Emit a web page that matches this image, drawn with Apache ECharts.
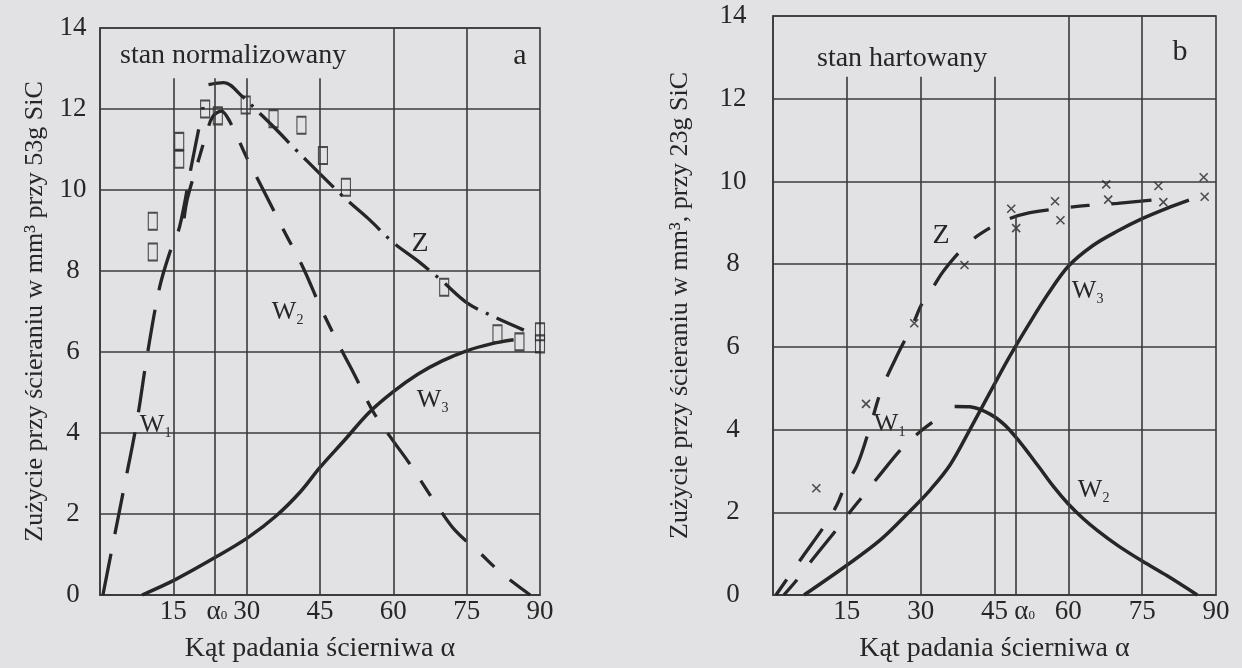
<!DOCTYPE html>
<html>
<head>
<meta charset="utf-8">
<script src="https://cdn.jsdelivr.net/npm/echarts@6/dist/echarts.min.js"></script>
<style>
  html, body { margin: 0; padding: 0; background: #e2e2e4; }
  #chart { width: 1242px; height: 668px; }
</style>
</head>
<body>
<div id="chart"></div>
<script>
// ---- axes ----
const angleMin = 0, angleMax = 90, angleStep = 15;
const wearMin = 0, wearMax = 14, wearStep = 2;

// ---- panel a: stan normalizowany (53 g SiC) ----
const aAlpha0 = 23.5;
const aShortGuides = [15, 30, 45];          // guide lines stopping below the caption
const aFullGuides = [60, 75];
const aGuideTop = 12.76;
const aW1 = [[0.6,0],[2.3,1.05],[5,2.7],[7.5,4.25],[9.6,5.88],[12.2,7.6],[14.4,8.5],[16.3,9.1],[18.7,10.6],[21.1,12.05]];
const aW2 = [[17.2,9.3],[17.9,9.8],[20.3,10.8],[21.8,11.4],[23,11.8],[24.8,11.95],[26.6,11.68],[30.1,10.78],[34,9.86],
             [37.6,9.0],[41.6,8.07],[45.2,7.08],[49.2,6.1],[52,5.45],[56,4.5],[60,3.8],[63,3.3],[66,2.75],[69,2.2],
             [72.6,1.6],[77.6,1.05],[82,0.55],[88,0]];
const aW3 = [[8.6,0],[15.4,0.38],[23.6,0.93],[30.4,1.43],[36,1.95],[41,2.55],[45,3.15],[50,3.82],[55,4.5],
             [60,5.02],[65,5.45],[70,5.78],[75,6.03],[80,6.2],[84.6,6.3]];
const aZ = [[22.2,12.6],[25.3,12.65],[29.2,12.3],[32.2,11.95],[36,11.5],[40,11.0],[45,10.4],[50,9.81],[55,9.28],
            [60,8.7],[65,8.25],[70,7.75],[75,7.22],[80,6.9],[86.7,6.54]];
const aPoints = [[10.8,9.23],[10.8,8.47],[16.2,11.2],[16.2,10.76],[21.5,12.0],[24.1,11.83],[29.8,12.1],[35.5,11.76],
                 [41.2,11.6],[45.6,10.85],[50.3,10.07],[70.4,7.6],[81.3,6.45],[85.8,6.25],[90,6.5],[90,6.2]];

// ---- panel b: stan hartowany (23 g SiC) ----
const bAlpha0 = 49.3;
const bShortGuides = [15, 30, 45];
const bFullGuides = [60, 75];
const bGuideTop = 12.53;
const bAlpha0Top = 9.17;
// Z (its lower branch runs together with W1)
const bZ = [[0.6,0],[5.8,0.89],[10.5,1.68],[13,2.18],[14.6,2.63],[17.1,3.14],[19.8,4.1],[21.9,4.92],[24.8,5.69],
            [28.5,6.57],[30.2,7.03],[32.3,7.4],[34.8,7.86],[39.9,8.53],[44.4,8.9],[48,9.1],[52,9.24],
            [58,9.34],[64,9.42],[70,9.47],[78.1,9.56]];
const bW2rise = [[2.2,0],[5.1,0.4],[7.7,0.81],[12.9,1.58],[15.6,2.0],[18.3,2.4],[21.2,2.83],[26.6,3.6],[30.1,3.97],[33,4.23]];
const bW2 = [[36.9,4.56],[40,4.55],[44,4.38],[47,4.12],[50,3.72],[54,3.1],[57,2.62],[60,2.2],[63,1.85],[66,1.55],
             [70,1.2],[75,0.82],[80,0.47],[86.2,0]];
const bW3 = [[6.3,0],[15,0.72],[22,1.35],[28,2.05],[32,2.55],[36,3.15],[40,4.0],[44,4.88],[48,5.75],[52,6.55],
             [56,7.3],[60,7.95],[65,8.45],[70,8.8],[75,9.1],[80,9.35],[84.5,9.55]];
const bPoints = [[8.8,2.58],[18.9,4.62],[28.7,6.57],[38.9,7.98],[48.4,9.34],[49.4,8.87],[57.3,9.52],[58.4,9.06],
                 [67.7,9.93],[68.1,9.56],[78.3,9.89],[79.3,9.5],[87.5,10.1],[87.7,9.63]];

// ---- styling ----
const FONT = '"Liberation Serif", "DejaVu Serif", "Times New Roman", serif';
const INK = '#262626';
const GRID_INK = '#3a3a3a';
const TICK_SIZE = 27;

const chart = echarts.init(document.getElementById('chart'), null, { renderer: 'canvas' });

function seg(x, top, extra) {
  return [Object.assign({ coord: [x, 0] }, extra || {}), { coord: [x, top] }];
}

function alphaLabel(shift) {
  return {
    show: true,
    position: 'start',
    distance: 3,
    offset: [shift, 0],
    formatter: '{a|α}{s|0}',
    rich: {
      a: { fontFamily: FONT, fontSize: TICK_SIZE, color: INK },
      s: { fontFamily: FONT, fontSize: 13, color: INK, padding: [8, 0, 0, 0] }
    }
  };
}

function guides(idx, shortList, shortTop, fullList, alpha0, alphaTop, shift) {
  const data = [];
  shortList.forEach(x => data.push(seg(x, shortTop)));
  fullList.forEach(x => data.push(seg(x, wearMax)));
  data.push(seg(alpha0, alphaTop, { label: alphaLabel(shift) }));
  return {
    type: 'line', xAxisIndex: idx, yAxisIndex: idx, data: [], silent: true,
    markLine: {
      symbol: ['none', 'none'], silent: true, animation: false,
      label: { show: false },
      lineStyle: { type: 'solid', color: GRID_INK, width: 1.6 },
      emphasis: { disabled: true },
      data: data
    }
  };
}

function curve(idx, data, dash, width) {
  return {
    type: 'line', xAxisIndex: idx, yAxisIndex: idx, data: data,
    smooth: 0.35, showSymbol: false, silent: true, animation: false,
    lineStyle: { color: INK, width: width || 3.3, type: dash || 'solid', cap: 'butt' }
  };
}

function xAxis(idx) {
  return {
    type: 'value', gridIndex: idx, min: angleMin, max: angleMax, interval: angleStep,
    name: 'Kąt padania ścierniwa α', nameLocation: 'middle', nameGap: 40,
    nameTextStyle: { fontFamily: FONT, fontSize: 28, color: INK },
    axisLine: { show: true, lineStyle: { color: GRID_INK, width: 1.6 } },
    axisTick: { show: false },
    splitLine: { show: false },
    axisLabel: {
      margin: 3, fontFamily: FONT, fontSize: TICK_SIZE, color: INK,
      formatter: v => (v === 0 ? '' : String(v))
    }
  };
}

function yAxis(idx, title, margin, gap) {
  return {
    type: 'value', gridIndex: idx, min: wearMin, max: wearMax, interval: wearStep,
    name: title, nameLocation: 'middle', nameRotate: 90, nameGap: gap,
    nameTextStyle: { fontFamily: FONT, fontSize: 26, color: INK },
    axisLine: { show: true, lineStyle: { color: GRID_INK, width: 1.6 } },
    axisTick: { show: false },
    splitLine: { show: true, lineStyle: { color: GRID_INK, width: 1.6 } },
    axisLabel: { margin: margin, align: 'center', fontFamily: FONT, fontSize: TICK_SIZE, color: INK }
  };
}

function wLabel(cx, cy, sub) {
  return {
    type: 'group',
    children: [
      { type: 'text', x: cx - 6, y: cy, style: { text: 'W', font: '26px ' + FONT, fill: INK, align: 'center', verticalAlign: 'middle' } },
      { type: 'text', x: cx + 10, y: cy + 8, style: { text: sub, font: '14px ' + FONT, fill: INK, align: 'center', verticalAlign: 'middle' } }
    ]
  };
}

function plainText(cx, cy, text, size) {
  return { type: 'text', x: cx, y: cy, style: { text: text, font: size + 'px ' + FONT, fill: INK, align: 'center', verticalAlign: 'middle' } };
}

const squareStyle = { color: 'rgba(0,0,0,0)', borderColor: INK, borderWidth: 1.5 };
const crossStyle = { color: 'rgba(0,0,0,0)', borderColor: INK, borderWidth: 1.6 };

chart.setOption({
  backgroundColor: '#e2e2e4',
  animation: false,
  grid: [
    { left: 100, top: 28, width: 440, height: 567, show: true, borderColor: GRID_INK, borderWidth: 1.6, backgroundColor: 'transparent' },
    { left: 773, top: 16, width: 443, height: 580, show: true, borderColor: GRID_INK, borderWidth: 1.6, backgroundColor: 'transparent' }
  ],
  xAxis: [xAxis(0), xAxis(1)],
  yAxis: [
    yAxis(0, 'Zużycie przy ścieraniu w mm³ przy 53g SiC', 27, 52),
    yAxis(1, 'Zużycie przy ścieraniu w mm³, przy 23g SiC', 40, 80)
  ],
  series: [
    guides(0, aShortGuides, aGuideTop, aFullGuides, aAlpha0, aGuideTop, 2),
    curve(0, aW1, [42, 20]),
    curve(0, aW2, [38, 20, 18, 20]),
    curve(0, aZ, [42, 9, 3, 9]),
    curve(0, aW3, 'solid', 3.5),
    {
      type: 'scatter', xAxisIndex: 0, yAxisIndex: 0, data: aPoints, silent: true,
      symbol: 'rect', symbolSize: [9, 17], itemStyle: squareStyle
    },
    guides(1, bShortGuides, bGuideTop, bFullGuides, bAlpha0, bAlpha0Top, 9),
    curve(1, bZ, [19, 22, 40, 22]),
    curve(1, bW2rise, [20, 22, 40, 22]),
    curve(1, bW2, 'solid', 3.5),
    curve(1, bW3, 'solid', 3.5),
    {
      type: 'scatter', xAxisIndex: 1, yAxisIndex: 1, data: bPoints, silent: true,
      symbol: 'path://M0,0L10,10M10,0L0,10', symbolSize: 8, itemStyle: crossStyle
    }
  ],
  graphic: [
    { type: 'text', left: 120, top: 42, style: { text: 'stan normalizowany', font: '28px ' + FONT, fill: INK } },
    plainText(520, 56, 'a', 30),
    { type: 'text', left: 817, top: 45, style: { text: 'stan hartowany', font: '28px ' + FONT, fill: INK } },
    plainText(1180, 52, 'b', 30),
    wLabel(158, 425, '1'),
    wLabel(290, 312, '2'),
    wLabel(435, 400, '3'),
    plainText(420, 244, 'Z', 28),
    wLabel(892, 424, '1'),
    wLabel(1096, 490, '2'),
    wLabel(1090, 291, '3'),
    plainText(941, 236, 'Z', 28)
  ]
});
</script>
</body>
</html>
